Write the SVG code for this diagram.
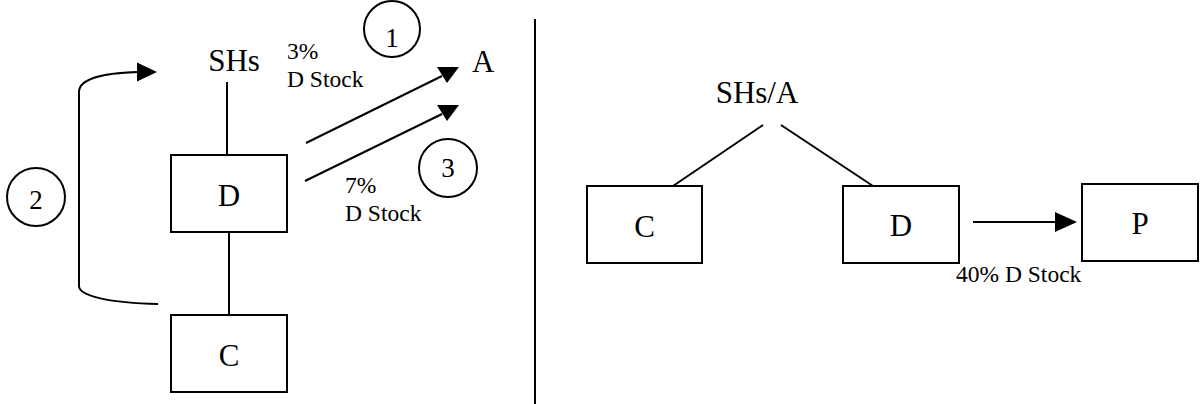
<svg xmlns="http://www.w3.org/2000/svg" width="1200" height="404" viewBox="0 0 1200 404">
  <style>
    .box { fill: #ffffff; stroke: #000000; stroke-width: 2; }
    .ln { fill: none; stroke: #000000; stroke-width: 2; }
    .head { fill: #000000; stroke: none; }
    text { font-family: "Liberation Serif", "Times New Roman", serif; fill: #000000; }
    .t31 { font-size: 31px; }
    .t27 { font-size: 27px; }
    .t23 { font-size: 23.5px; }
  </style>
  <rect width="1200" height="404" fill="#ffffff"/>

  <!-- connectors -->
  <g id="connectors">
    <!-- left: ownership chain -->
    <line class="ln" x1="227" y1="82" x2="227" y2="155"/>
    <line class="ln" x1="229" y1="232" x2="229" y2="315"/>
    <!-- step 2: C back up to shareholders -->
    <path class="ln" d="M158,304 C110,303 79,296 79,286 L79,92 C79,80 100,73 138,72"/>
    <polygon class="head" points="157,72 137,62.5 137,81.5"/>
    <!-- step 1 and step 3: D stock out to A -->
    <line class="ln" x1="306" y1="143" x2="442" y2="76"/>
    <polygon class="head" points="459,67 437,67 447,83"/>
    <line class="ln" x1="305" y1="181" x2="442" y2="114"/>
    <polygon class="head" points="459,105 437,105 447,121"/>
    <!-- divider -->
    <line class="ln" x1="535" y1="19" x2="535" y2="404"/>
    <!-- right: ownership tree -->
    <line class="ln" x1="763" y1="125" x2="673" y2="186"/>
    <line class="ln" x1="781" y1="125" x2="873" y2="186"/>
    <line class="ln" x1="973" y1="222" x2="1057" y2="222"/>
    <polygon class="head" points="1077,222 1055,212 1055,232"/>
  </g>

  <!-- left diagram nodes -->
  <g id="shs-left">
    <text class="t31" x="234" y="71" text-anchor="middle">SHs</text>
  </g>
  <g id="d-left">
    <rect class="box" x="171" y="155" width="116" height="77"/>
    <text class="t31" x="229" y="206" text-anchor="middle">D</text>
  </g>
  <g id="c-left">
    <rect class="box" x="171" y="315" width="116" height="77"/>
    <text class="t31" x="229" y="366" text-anchor="middle">C</text>
  </g>
  <g id="a-left">
    <text class="t31" x="472" y="72">A</text>
  </g>

  <!-- step markers -->
  <g id="step-1">
    <circle class="ln" cx="392" cy="29" r="28"/>
    <text class="t27" x="392" y="47" text-anchor="middle">1</text>
  </g>
  <g id="step-2">
    <circle class="ln" cx="36" cy="197" r="29"/>
    <text class="t27" x="36" y="209" text-anchor="middle">2</text>
  </g>
  <g id="step-3">
    <circle class="ln" cx="448" cy="168" r="29"/>
    <text class="t27" x="448" y="177" text-anchor="middle">3</text>
  </g>

  <!-- transfer labels -->
  <g id="label-3pct">
    <text class="t23" x="287" y="59">3%</text>
    <text class="t23" x="287" y="87">D Stock</text>
  </g>
  <g id="label-7pct">
    <text class="t23" x="345" y="193">7%</text>
    <text class="t23" x="345" y="221">D Stock</text>
  </g>

  <!-- right diagram nodes -->
  <g id="shs-a-right">
    <text class="t31" x="757" y="103" text-anchor="middle">SHs/A</text>
  </g>
  <g id="c-right">
    <rect class="box" x="587" y="186" width="115" height="77"/>
    <text class="t31" x="644.5" y="237" text-anchor="middle">C</text>
  </g>
  <g id="d-right">
    <rect class="box" x="843" y="186" width="116" height="77"/>
    <text class="t31" x="901" y="236" text-anchor="middle">D</text>
  </g>
  <g id="p-right">
    <rect class="box" x="1082" y="184" width="116" height="77"/>
    <text class="t31" x="1140" y="234" text-anchor="middle">P</text>
  </g>
  <g id="label-40pct">
    <text class="t23" x="956" y="282">40% D Stock</text>
  </g>
</svg>
